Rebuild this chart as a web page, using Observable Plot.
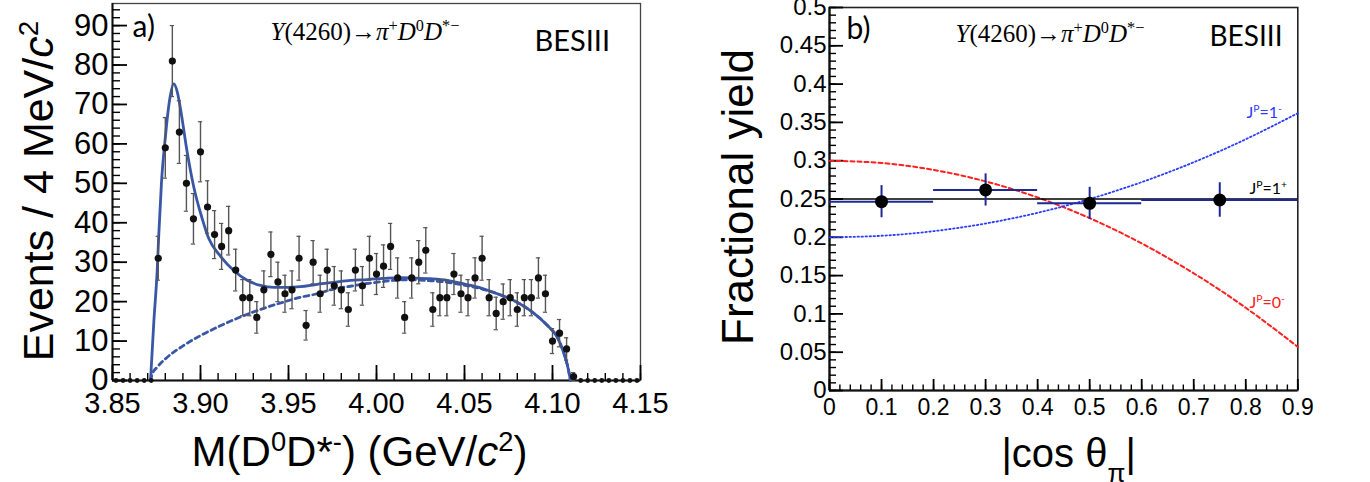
<!DOCTYPE html>
<html><head><meta charset="utf-8">
<script src="https://cdn.jsdelivr.net/npm/d3@7"></script>
<script src="https://cdn.jsdelivr.net/npm/@observablehq/plot@0.6"></script>
<style>
body{margin:0;background:#fff;}
#wrap{position:relative;width:1370px;height:482px;overflow:hidden;background:#fff;}
#left{position:absolute;left:0;top:0;}
#right{position:absolute;left:665px;top:0;}
svg{overflow:visible;}
</style></head><body>
<div id="wrap"><div id="left"></div><div id="right"></div></div>
<script>
// ---------- panel a) data ----------
const binLow = 3.85, binWidth = 0.004;
const counts = [0,0,0,0,0,0,
  31,59,81,63,50,41,58,44,37,34,
  38,28,21,21,16,23,32,25,22,23,
  31,14,30,22,28,24,23,18,28,24,
  31,27,29,34,26,16,26,30,33,18,
  21,21,27,22,21,26,31,21,17,20,
  21,18,21,21,26,22,10,12,8,1,
  0,0,0,0,0,0,0,0,0];
const fitMass = [3.8716,3.8735,3.8754,3.8763,3.8778,3.8801,3.8824,3.8848,3.8869,3.8886,3.8924,3.8962,3.9010,3.9047,3.9114,3.9189,3.9265,3.9341,3.9417,3.9493,3.9568,3.9663,3.9757,3.9852,3.9947,4.0041,4.0136,4.0212,4.0307,4.0402,4.0496,4.0591,4.0686,4.0780,4.0875,4.0970,4.1027,4.1064,4.1084,4.1098,4.1102];
const fitTotal = [0,15,28,37,50,62,71,75.2,73,69,58,49,41,36,31.5,27.9,25.4,24.1,23.6,23.6,23.8,24.4,24.9,25.4,25.6,25.9,26.1,26.0,25.8,25.4,24.5,23.5,22,20.3,17.7,14,11,7,4,1,0];
const bkgMass = [3.8716,3.8726,3.8754,3.8811,3.8905,3.9000,3.9095,3.9189,3.9284,3.9379,3.9473,3.9568,3.9663,3.9757,3.9852,3.9947,4.0041,4.0136,4.0212,4.0307,4.0402,4.0496,4.0591,4.0686,4.0780,4.0875,4.0970,4.1027,4.1064,4.1084,4.1098,4.1102];
const bkgValue = [0,1.7,3.4,5.9,8.9,11.4,13.5,15.4,17.1,18.6,19.9,21.1,22.0,23.2,23.9,24.6,25.1,25.5,25.5,25.3,24.9,24.2,23.3,22,20.3,17.7,14,11,7,4,1,0];
const leftXTicks = [3.85,3.90,3.95,4.00,4.05,4.10,4.15];
const leftYTicks = [0,10,20,30,40,50,60,70,80,90];

// ---------- panel b) data ----------
const cosCenter = [0.1,0.3,0.5,0.75];
const cosLow = [0,0.2,0.4,0.6];
const cosHigh = [0.2,0.4,0.6,0.9];
const fracYield = [0.2465,0.2618,0.2443,0.2487];
const fracErr = [0.021,0.021,0.021,0.0225];
const cosGrid = [0,0.1,0.2,0.3,0.4,0.5,0.6,0.7,0.8,0.9];
const yield1m = [0.200,0.202,0.208,0.218,0.232,0.250,0.272,0.298,0.328,0.362];
const yield0m = [0.300,0.297,0.288,0.273,0.252,0.225,0.192,0.153,0.108,0.057];
const yield1p = [0.25];
const rightXTicks = [0,0.1,0.2,0.3,0.4,0.5,0.6,0.7,0.8,0.9];
const rightYTicks = [0,0.05,0.1,0.15,0.2,0.25,0.3,0.35,0.4,0.45,0.5];

// ---------- helpers ----------
const SANS = "'Liberation Sans', Arial, Helvetica, sans-serif";
const SERIF = "'Liberation Serif', 'Times New Roman', serif";
const CAL = "Lato, 'Open Sans', sans-serif";
function richify(root) {
  root.querySelectorAll("text").forEach(t => {
    const s = t.textContent;
    if (!/[\^_~]\{/.test(s)) return;
    while (t.firstChild) t.removeChild(t.firstChild);
    const re = /([\^_~])\{([^}]*)\}|([^\^_~]+)/g;
    let m;
    while ((m = re.exec(s))) {
      const ts = document.createElementNS("http://www.w3.org/2000/svg", "tspan");
      if (m[3] !== undefined) ts.textContent = m[3];
      else {
        ts.textContent = m[2];
        if (m[1] === "^") { ts.setAttribute("baseline-shift", "super"); ts.setAttribute("font-size", "65%"); }
        else if (m[1] === "_") { ts.setAttribute("baseline-shift", "sub"); ts.setAttribute("font-size", "65%"); }
        else ts.setAttribute("font-style", "italic");
      }
      t.appendChild(ts);
    }
  });
}
const range = (a, b, n) => d3.range(0, n + 1).map(i => +(a + (b - a) * i / n).toFixed(6));

// ---------- panel a) ----------
const hist = counts.map((n, i) => ({m: binLow + binWidth * (i + 0.5), n, e: Math.sqrt(n)}));
const filled = hist.filter(d => d.n > 0);
const empty = hist.filter(d => d.n === 0);
const fitLine = fitMass.map((m, i) => ({m, v: fitTotal[i]}));
const bkgLine = bkgMass.map((m, i) => ({m, v: bkgValue[i]}));
const BLUE = "#3a56a6";
const xDomA = [3.85, 4.15], yDomA = [0, 95.6];
const cap = 0.0012;

const left = Plot.plot({
  width: 665, height: 482,
  marginLeft: 112, marginRight: 25, marginTop: 3, marginBottom: 102,
  style: {fontFamily: SANS, background: "none", color: "#000"},
  x: {domain: xDomA},
  y: {domain: yDomA},
  marks: [
    Plot.frame({stroke: "#444", strokeWidth: 1.3}),
    Plot.ruleX([xDomA[0]], {stroke: "#111", strokeWidth: 2}),
    Plot.ruleY([yDomA[0]], {stroke: "#111", strokeWidth: 2}),
    Plot.axisY(range(0, 94, 47), {tickSize: -8, tickFormat: () => "", label: null, strokeWidth: 1.4}),
    Plot.axisY(leftYTicks, {tickSize: -15, tickFormat: () => "", label: null, strokeWidth: 1.8}),
    Plot.axisY(leftYTicks, {tickSize: 0, tickPadding: 4, fontSize: 31, label: null}),
    Plot.axisX(range(3.85, 4.15, 30), {tickSize: -7, tickFormat: () => "", label: null, strokeWidth: 1.4}),
    Plot.axisX(leftXTicks, {tickSize: -15, tickFormat: () => "", label: null, strokeWidth: 1.8}),
    Plot.axisX(leftXTicks, {tickSize: 0, tickPadding: 12, fontSize: 29, label: null, tickFormat: d => d.toFixed(2)}),
    Plot.line(bkgLine, {x: "m", y: "v", stroke: BLUE, strokeWidth: 2.8, strokeDasharray: "5,4", curve: "monotone-x"}),
    Plot.line(fitLine, {x: "m", y: "v", stroke: BLUE, strokeWidth: 2.8, curve: "monotone-x"}),
    Plot.ruleX(filled, {x: "m", y1: d => d.n - d.e, y2: d => d.n + d.e, stroke: "#555", strokeWidth: 1.4}),
    Plot.ruleY(filled, {y: d => d.n + d.e, x1: d => d.m - cap, x2: d => d.m + cap, stroke: "#555", strokeWidth: 1.2}),
    Plot.ruleY(filled, {y: d => d.n - d.e, x1: d => d.m - cap, x2: d => d.m + cap, stroke: "#555", strokeWidth: 1.2}),
    Plot.dot(filled, {x: "m", y: "n", r: 3.6, fill: "#111", stroke: null}),
    Plot.dot(empty, {x: "m", y: "n", r: 2.4, fill: "#111", stroke: null}),
    Plot.text(["a)"], {frameAnchor: "top-left", dx: 20, dy: 33, textAnchor: "start", lineAnchor: "bottom", fontSize: 30, fontFamily: CAL}),
    Plot.text(["~{Y}(4260)→~{π}^{+}~{D}^{0}~{D}^{*−}"], {frameAnchor: "top-left", dx: 158, dy: 36, textAnchor: "start", lineAnchor: "bottom", fontSize: 25, fontFamily: SERIF}),
    Plot.text(["BESIII"], {frameAnchor: "top-left", dx: 422, dy: 47, textAnchor: "start", lineAnchor: "bottom", fontSize: 29, fontFamily: CAL}),
    Plot.text(["Events / 4 MeV/~{c}^{2}"], {frameAnchor: "left", rotate: -90, dx: -60, dy: -1, textAnchor: "middle", lineAnchor: "bottom", fontSize: 43, fontFamily: SANS}),
    Plot.text(["M(D^{0}D*^{-}) (GeV/~{c}^{2})"], {frameAnchor: "bottom", dx: -17, dy: 85, textAnchor: "middle", lineAnchor: "bottom", fontSize: 42, fontFamily: SANS})
  ]
});
richify(left);
document.getElementById("left").appendChild(left);

// ---------- panel b) ----------
const pts = cosCenter.map((c, i) => ({c, lo: cosLow[i], hi: cosHigh[i], f: fracYield[i], e: fracErr[i]}));
const curves = cosGrid.map((c, i) => ({c, a: yield1m[i], b: yield0m[i]}));
const NAVY = "#1d2a94";
const xDomB = [0, 0.9], yDomB = [0, 0.5];

const right = Plot.plot({
  width: 705, height: 482,
  marginLeft: 164, marginRight: 72.7, marginTop: 7, marginBottom: 92,
  style: {fontFamily: SANS, background: "none", color: "#000"},
  x: {domain: xDomB},
  y: {domain: yDomB},
  marks: [
    Plot.frame({stroke: "#222", strokeWidth: 1.6}),
    Plot.ruleX([xDomB[0]], {stroke: "#111", strokeWidth: 2.2}),
    Plot.ruleY([yDomB[0]], {stroke: "#111", strokeWidth: 2.2}),
    Plot.axisY(range(0, 0.5, 50), {tickSize: -7, tickFormat: () => "", label: null, strokeWidth: 1.4}),
    Plot.axisY(rightYTicks, {tickSize: -14, tickFormat: () => "", label: null, strokeWidth: 1.8}),
    Plot.axisY(rightYTicks, {tickSize: 0, tickPadding: 3, fontSize: 24, label: null, tickFormat: d => String(d)}),
    Plot.axisX(range(0, 0.9, 45), {tickSize: -5.5, tickFormat: () => "", label: null, strokeWidth: 1.4}),
    Plot.axisX(rightXTicks, {tickSize: -11, tickFormat: () => "", label: null, strokeWidth: 1.8}),
    Plot.axisX(rightXTicks, {tickSize: 0, tickPadding: 8, fontSize: 23, label: null, tickFormat: d => String(d)}),
    Plot.line(curves, {x: "c", y: "b", stroke: "#ff2020", strokeWidth: 2, strokeDasharray: "4,3", curve: "natural"}),
    Plot.line(curves, {x: "c", y: "a", stroke: "#2a3cff", strokeWidth: 1.8, strokeDasharray: "1.5,2.5", curve: "natural"}),
    Plot.ruleY(yield1p, {stroke: "#000", strokeWidth: 1.6}),
    Plot.ruleY(pts, {y: "f", x1: "lo", x2: "hi", stroke: NAVY, strokeWidth: 2}),
    Plot.ruleX(pts, {x: "c", y1: d => d.f - d.e, y2: d => d.f + d.e, stroke: NAVY, strokeWidth: 2}),
    Plot.dot(pts, {x: "c", y: "f", r: 6.5, fill: "#000", stroke: null}),
    Plot.text(["b)"], {frameAnchor: "top-left", dx: 17, dy: 31, textAnchor: "start", lineAnchor: "bottom", fontSize: 30, fontFamily: CAL}),
    Plot.text(["~{Y}(4260)→~{π}^{+}~{D}^{0}~{D}^{*−}"], {frameAnchor: "top-left", dx: 126, dy: 34, textAnchor: "start", lineAnchor: "bottom", fontSize: 25, fontFamily: SERIF}),
    Plot.text(["BESIII"], {frameAnchor: "top-left", dx: 380, dy: 38, textAnchor: "start", lineAnchor: "bottom", fontSize: 28, fontFamily: CAL}),
    Plot.text(["J^{P}=1^{-}"], {frameAnchor: "top-left", dx: 417, dy: 110, textAnchor: "start", lineAnchor: "bottom", fontSize: 16, fontFamily: CAL, fill: "#2a3cff"}),
    Plot.text(["J^{P}=1^{+}"], {frameAnchor: "top-left", dx: 420, dy: 186, textAnchor: "start", lineAnchor: "bottom", fontSize: 16, fontFamily: CAL, fill: "#000"}),
    Plot.text(["J^{P}=0^{-}"], {frameAnchor: "top-left", dx: 420, dy: 300, textAnchor: "start", lineAnchor: "bottom", fontSize: 16, fontFamily: CAL, fill: "#ff2020"}),
    Plot.text(["Fractional yield"], {frameAnchor: "left", rotate: -90, dx: -77, dy: -2, textAnchor: "middle", lineAnchor: "bottom", fontSize: 44, fontFamily: SANS}),
    Plot.text(["|cos θ_{π}|"], {frameAnchor: "bottom", dx: 5, dy: 76, textAnchor: "middle", lineAnchor: "bottom", fontSize: 40, fontFamily: SANS})
  ]
});
richify(right);
document.getElementById("right").appendChild(right);
</script>
</body></html>
